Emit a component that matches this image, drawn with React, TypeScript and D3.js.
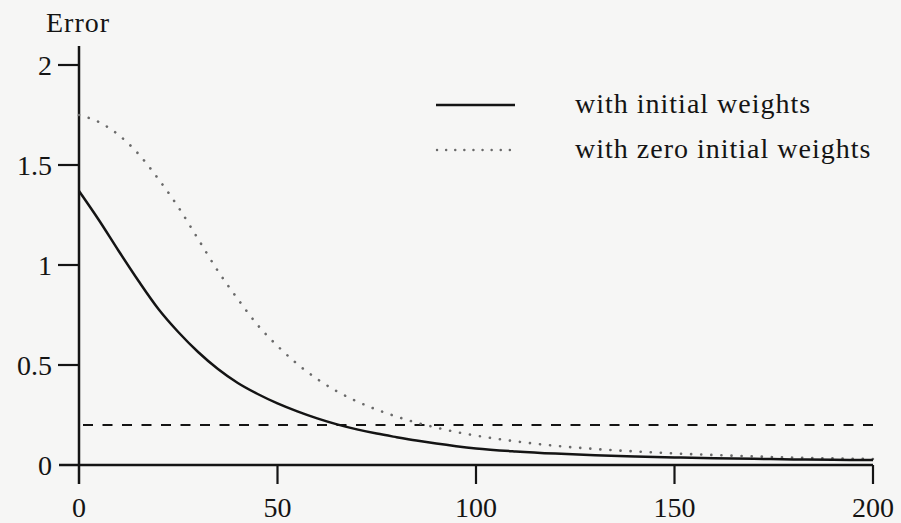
import React, { useEffect, useRef } from "react";
import * as d3 from "d3";

// epochs
const epochs = [0, 5, 10, 15, 20, 25, 30, 35, 40, 45, 50, 55, 60, 65, 70, 75, 80, 85, 90, 95, 100, 110, 120, 130, 140, 150, 160, 170, 180, 190, 200];
const withInitial = [1.37, 1.225, 1.07, 0.92, 0.78, 0.665, 0.565, 0.48, 0.41, 0.355, 0.308, 0.268, 0.233, 0.203, 0.178, 0.157, 0.139, 0.122, 0.107, 0.094, 0.083, 0.068, 0.057, 0.049, 0.043, 0.038, 0.034, 0.031, 0.028, 0.026, 0.025];
const withZero = [1.75, 1.715, 1.65, 1.555, 1.43, 1.29, 1.13, 0.97, 0.83, 0.7, 0.595, 0.505, 0.43, 0.368, 0.318, 0.277, 0.242, 0.212, 0.187, 0.165, 0.147, 0.118, 0.096, 0.08, 0.068, 0.058, 0.05, 0.043, 0.037, 0.033, 0.03];
const threshold = 0.2;
const xTicks = [0, 50, 100, 150, 200];
const yTicks = [0, 0.5, 1, 1.5, 2];
const legendLabels = ["with initial weights", "with zero initial weights"];

const W = 901;
const H = 523;
const FONT = "'Liberation Serif', 'Times New Roman', serif";
const INK = "#141414";

const App = () => {
  const ref = useRef<SVGSVGElement>(null);

  useEffect(() => {
    const svg = d3.select(ref.current);
    svg.selectAll("*").remove();

    const x = d3.scaleLinear().domain([0, 200]).range([79, 873]);
    const y = d3.scaleLinear().domain([0, 2]).range([465, 65]);

    svg.append("rect").attr("width", W).attr("height", H).attr("fill", "#f6f6f5");

    // axes
    svg.append("line")
      .attr("x1", x(0)).attr("x2", x(0)).attr("y1", 46).attr("y2", 484)
      .attr("stroke", INK).attr("stroke-width", 2.5);
    svg.append("line")
      .attr("x1", 59).attr("x2", x(200)).attr("y1", y(0)).attr("y2", y(0))
      .attr("stroke", INK).attr("stroke-width", 2.5);

    // y ticks
    svg.selectAll(".ytick")
      .data(yTicks.filter(d => d > 0))
      .enter().append("line")
      .attr("class", "ytick")
      .attr("x1", 58).attr("x2", x(0))
      .attr("y1", d => y(d)).attr("y2", d => y(d))
      .attr("stroke", INK).attr("stroke-width", 2.2);

    svg.selectAll(".ylab")
      .data(yTicks)
      .enter().append("text")
      .attr("class", "ylab")
      .attr("x", 52)
      .attr("y", d => y(d))
      .attr("dy", "0.34em")
      .attr("text-anchor", "end")
      .style("font-family", FONT)
      .style("font-size", "28px")
      .style("fill", INK)
      .text(d => String(d));

    // x ticks
    svg.selectAll(".xtick")
      .data(xTicks.filter(d => d > 0))
      .enter().append("line")
      .attr("class", "xtick")
      .attr("x1", d => x(d)).attr("x2", d => x(d))
      .attr("y1", y(0)).attr("y2", 484)
      .attr("stroke", INK).attr("stroke-width", 2.2);

    svg.selectAll(".xlab")
      .data(xTicks)
      .enter().append("text")
      .attr("class", "xlab")
      .attr("x", d => x(d))
      .attr("y", 517)
      .attr("text-anchor", "middle")
      .style("font-family", FONT)
      .style("font-size", "28px")
      .style("fill", INK)
      .text(d => String(d));

    svg.append("text")
      .attr("x", 46).attr("y", 32)
      .style("font-family", FONT)
      .style("font-size", "28px")
      .style("letter-spacing", "1px")
      .style("fill", INK)
      .text("Error");

    // threshold
    svg.append("line")
      .attr("x1", x(0) + 4).attr("x2", x(200))
      .attr("y1", y(threshold)).attr("y2", y(threshold))
      .attr("stroke", INK).attr("stroke-width", 2.2)
      .attr("stroke-dasharray", "10 9.5");

    const line = d3.line<number>()
      .x((_, i) => x(epochs[i]))
      .y(d => y(d))
      .curve(d3.curveMonotoneX);

    svg.append("path")
      .datum(withZero)
      .attr("d", line)
      .attr("fill", "none")
      .attr("stroke", "#6a6a6a")
      .attr("stroke-width", 2.6)
      .attr("stroke-linecap", "round")
      .attr("stroke-dasharray", "0.1 10");

    svg.append("path")
      .datum(withInitial)
      .attr("d", line)
      .attr("fill", "none")
      .attr("stroke", INK)
      .attr("stroke-width", 2.5);

    // legend
    const legendY = [105, 150];
    svg.append("line")
      .attr("x1", 436).attr("x2", 515).attr("y1", legendY[0]).attr("y2", legendY[0])
      .attr("stroke", INK).attr("stroke-width", 2.5);
    svg.append("line")
      .attr("x1", 437).attr("x2", 518).attr("y1", legendY[1]).attr("y2", legendY[1])
      .attr("stroke", "#6a6a6a").attr("stroke-width", 2.4)
      .attr("stroke-linecap", "round")
      .attr("stroke-dasharray", "0.1 9");

    svg.selectAll(".leg")
      .data(legendLabels)
      .enter().append("text")
      .attr("class", "leg")
      .attr("x", 575)
      .attr("y", (_, i) => legendY[i] + 8)
      .style("font-family", FONT)
      .style("font-size", "28px")
      .style("letter-spacing", "1px")
      .style("fill", INK)
      .text(d => d);
  }, []);

  return (
    <svg
      ref={ref}
      width={W}
      height={H}
      style={{ position: "absolute", left: 0, top: 0, display: "block" }}
    />
  );
};

export default App;
